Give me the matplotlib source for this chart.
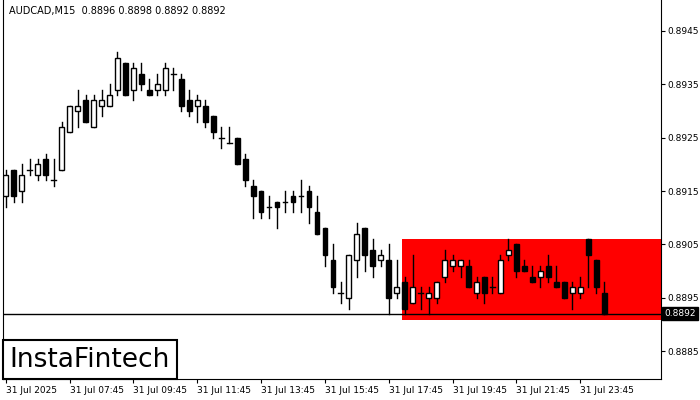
import matplotlib
matplotlib.use("Agg")
import matplotlib.pyplot as plt
from matplotlib.patches import Rectangle

opens = [0.8914,0.8919,0.8915,0.89189,0.8918,0.8921,0.8917,0.8919,0.8926,0.8930,0.8932,0.8927,0.8931,0.8931,0.8934,0.8939,0.8934,0.8937,0.8934,0.8934,
         0.8934,0.8937,0.8936,0.8932,0.8931,0.8931,0.8929,0.8925,0.8924,0.8925,0.8921,0.8916,0.8915,0.8912,0.8913,0.8913,0.8914,0.8914,0.8915,0.8911,
         0.8908,0.8902,0.8896,0.8895,0.8902,0.8908,0.8904,0.8902,0.8902,0.8896,0.8898,0.8894,0.8896,0.8895,0.8895,0.8899,0.8901,0.8901,0.8901,0.8896,
         0.8899,0.8897,0.8896,0.8903,0.8905,0.8901,0.8899,0.8899,0.8901,0.8898,0.8898,0.8896,0.8896,0.8906,0.8902,0.8896]
closes = [0.8918,0.8914,0.8918,0.89189,0.8920,0.8918,0.8917,0.8927,0.8931,0.8931,0.8928,0.8932,0.8932,0.8933,0.8940,0.8933,0.8938,0.8935,0.8933,0.8935,
          0.8938,0.8937,0.8931,0.8930,0.8932,0.8928,0.8926,0.8925,0.8924,0.8920,0.8917,0.8914,0.8911,0.8912,0.8912,0.8913,0.8913,0.8914,0.8912,0.8907,
          0.8903,0.8897,0.8896,0.8903,0.8907,0.8903,0.8901,0.8903,0.8895,0.8897,0.8893,0.8897,0.8896,0.8896,0.8898,0.8902,0.8902,0.8902,0.8897,0.8898,
          0.8896,0.8897,0.8902,0.8904,0.8900,0.8900,0.8898,0.8900,0.8899,0.8897,0.8895,0.8897,0.8897,0.8903,0.8897,0.8892]
highs = [0.8919,0.8919,0.8920,0.8921,0.8921,0.8922,0.8921,0.8928,0.8931,0.8934,0.8933,0.8933,0.8934,0.8935,0.8941,0.8939,0.8939,0.8939,0.8936,0.8937,
         0.8939,0.8938,0.8937,0.8934,0.8933,0.8932,0.8929,0.8927,0.8927,0.8925,0.8922,0.8917,0.8915,0.8914,0.8913,0.8915,0.8915,0.8917,0.8916,0.8914,
         0.8908,0.8905,0.8898,0.8903,0.8909,0.8908,0.8906,0.8904,0.8905,0.8902,0.8899,0.8903,0.8897,0.8897,0.8898,0.8904,0.8903,0.8902,0.8902,0.8899,
         0.8899,0.8899,0.8903,0.8906,0.8905,0.8902,0.8901,0.8901,0.8903,0.8901,0.8898,0.8898,0.8899,0.8906,0.8902,0.8898]
lows = [0.8912,0.8913,0.8913,0.8918,0.8917,0.8917,0.8916,0.8919,0.8926,0.8927,0.8928,0.8927,0.8929,0.8931,0.8933,0.8933,0.8932,0.8934,0.8933,0.8933,
        0.8933,0.8934,0.8930,0.8929,0.8928,0.8927,0.8925,0.8923,0.8924,0.8920,0.8916,0.8910,0.8910,0.8910,0.8908,0.8911,0.8911,0.8911,0.8909,0.8907,
        0.8901,0.8896,0.8894,0.8893,0.8899,0.8900,0.8899,0.8901,0.8892,0.8895,0.8892,0.8894,0.8893,0.8892,0.8894,0.8898,0.8900,0.8899,0.8897,0.8895,
        0.8894,0.8896,0.8896,0.8902,0.8899,0.8900,0.8898,0.8897,0.8898,0.8897,0.8895,0.8893,0.8895,0.8897,0.8896,0.8892]
xtick_idx = [0, 8, 16, 24, 32, 40, 48, 56, 64, 72]
xtick_labels = ["31 Jul 2025", "31 Jul 07:45", "31 Jul 09:45", "31 Jul 11:45", "31 Jul 13:45",
                "31 Jul 15:45", "31 Jul 17:45", "31 Jul 19:45", "31 Jul 21:45", "31 Jul 23:45"]
yticks = [0.8945, 0.8935, 0.8925, 0.8915, 0.8905, 0.8895, 0.8885]
zone_start, zone_top, zone_bottom = 50, 0.89060, 0.88908
current_price = 0.8892

fig = plt.figure(figsize=(7, 4), dpi=100)
ax = fig.add_axes([0.004, 0.0525, 0.94, 0.9475])
ax.set_xlim(-0.375, 82.1)
ax.set_ylim(0.88798, 0.89508)

ax.add_patch(Rectangle((zone_start - 0.375, zone_bottom), 82.1 - zone_start + 0.375, zone_top - zone_bottom,
                       facecolor="#ff0000", edgecolor="none", zorder=1))
ax.axhline(current_price, color="black", lw=1, zorder=2)

w = 0.6
for i, (o, c, h, l) in enumerate(zip(opens, closes, highs, lows)):
    ax.plot([i, i], [l, h], color="black", lw=1, zorder=3)
    bot, top = min(o, c), max(o, c)
    if abs(top - bot) < 0.00002:
        ax.plot([i - w / 2, i + w / 2], [o, o], color="black", lw=1, zorder=4)
    else:
        ax.add_patch(Rectangle((i - w / 2, bot), w, top - bot, facecolor="white" if c > o else "black",
                               edgecolor="black", lw=1, zorder=4))

ax.yaxis.tick_right()
ax.set_yticks(yticks)
ax.set_yticklabels([f"{v:.4f}" for v in yticks], fontsize=6.5)
ax.set_xticks(xtick_idx)
ax.set_xticklabels(xtick_labels, fontsize=6.5, ha="left")
ax.tick_params(axis="both", length=3, pad=2)
ax.spines["top"].set_visible(False)

ax.text(1.005, current_price, f"{current_price:.4f}", transform=ax.get_yaxis_transform(),
        fontsize=6.5, color="white", va="center", ha="left",
        bbox=dict(facecolor="black", edgecolor="black", pad=1.5), zorder=10, clip_on=False)
ax.text(0.01, 0.985, "AUDCAD,M15  0.8896 0.8898 0.8892 0.8892", transform=ax.transAxes,
        fontsize=7, va="top", ha="left")

fig.text(0.014, 0.068, "InstaFintech", fontsize=19, va="bottom", ha="left",
         bbox=dict(facecolor="white", edgecolor="black", lw=1.5, boxstyle="square,pad=0.25"))

fig.savefig("out.png", dpi=100)
